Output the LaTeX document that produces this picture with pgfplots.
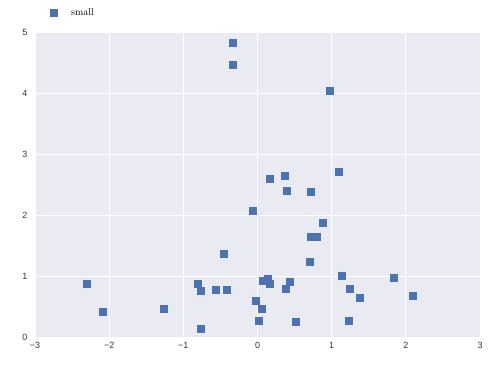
\documentclass[border=0pt]{standalone}
\usepackage{fontspec}
\usepackage{pgfplots}
\pgfplotsset{compat=1.18}
\newfontfamily\ticksf{Liberation Sans}
\definecolor{sbbg}{HTML}{EAEAF2}
\definecolor{sbblue}{HTML}{4C72B0}
\definecolor{ticktxt}{HTML}{333333}
\begin{document}
\begin{tikzpicture}[x=1bp,y=1bp]
\useasboundingbox (0,0) rectangle (494,368);
\begin{axis}[
  at={(35bp,31bp)}, anchor=south west,
  scale only axis, width=445bp, height=305bp,
  xmin=-3, xmax=3, ymin=0, ymax=5,
  xtick={-3,-2,-1,0,1,2,3}, ytick={0,1,2,3,4,5},
  xticklabels={−3,−2,−1,0,1,2,3},
  yticklabels={0,1,2,3,4,5},
  axis background/.style={fill=sbbg},
  axis line style={draw=none},
  major tick length=0pt,
  grid=major,
  major grid style={white, line width=1pt},
  tick label style={font=\ticksf\fontsize{9}{10}\selectfont, text=ticktxt},
  xticklabel style={yshift=-2bp},
  yticklabel style={xshift=-4bp},
  legend style={draw=none, fill=none, at={(0,1)}, anchor=west, xshift=14bp, yshift=19bp, font=\fontsize{10}{12}\selectfont, legend cell align=left, inner sep=0pt},
  legend image code/.code={\path[draw=none,fill=none] (0bp,0bp) -- (20bp,0bp); \draw[only marks, mark=square*, mark size=3.5bp, sbblue] plot coordinates {(4bp,0bp)};},
]
\addplot[only marks, mark=square*, mark size=3.5bp, draw=sbblue, fill=sbblue] coordinates {
(-0.33,4.82) (-0.33,4.46) (0.98,4.04) (1.09,2.71) (0.16,2.60) (0.36,2.64)
(0.40,2.40) (0.72,2.39) (-0.07,2.07) (0.88,1.88) (0.72,1.65) (0.80,1.65)
(0.70,1.23) (-0.46,1.37) (1.14,1.00) (1.83,0.97) (1.24,0.80) (1.38,0.65)
(2.09,0.67) (-2.30,0.87) (-2.09,0.42) (-1.26,0.47) (-0.81,0.87) (-0.76,0.76)
(-0.56,0.77) (-0.42,0.77) (-0.76,0.14) (0.07,0.92) (0.14,0.96) (0.16,0.87)
(0.43,0.90) (0.38,0.80) (-0.02,0.59) (0.05,0.47) (0.01,0.26) (0.51,0.25)
(1.23,0.26)
};
\addlegendentry{small}
\end{axis}
\end{tikzpicture}
\end{document}
